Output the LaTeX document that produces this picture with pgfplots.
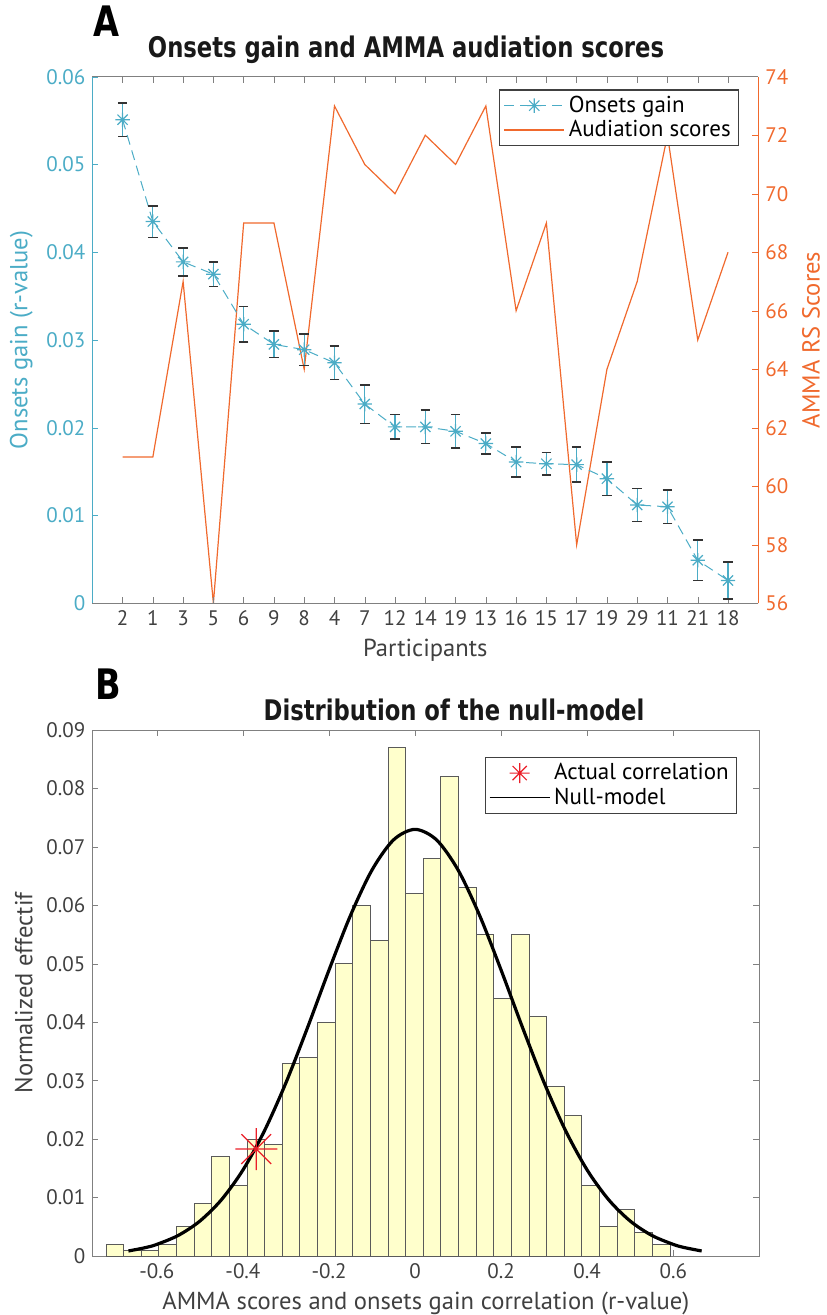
\documentclass[border=0pt]{standalone}
\usepackage{pgfplots}
\pgfplotsset{compat=1.18}
\usepackage{fontspec}
\setmainfont{PT Sans}
\newfontfamily\titlefont{DejaVu Sans}[FakeStretch=0.8]
\definecolor{cblue}{RGB}{75,172,198}
\definecolor{corange}{RGB}{240,105,45}
\definecolor{axgray}{RGB}{128,128,128}
\definecolor{txtgray}{RGB}{64,64,64}
\definecolor{histfill}{RGB}{255,255,204}
\definecolor{histedge}{RGB}{90,90,90}
\definecolor{cred}{RGB}{235,30,40}

\pgfdeclareplotmark{mstar}{%
  \pgfpathmoveto{\pgfqpoint{-\pgfplotmarksize}{0pt}}\pgfpathlineto{\pgfqpoint{\pgfplotmarksize}{0pt}}%
  \pgfpathmoveto{\pgfqpoint{0pt}{-\pgfplotmarksize}}\pgfpathlineto{\pgfqpoint{0pt}{\pgfplotmarksize}}%
  \pgfpathmoveto{\pgfqpoint{-.7071\pgfplotmarksize}{-.7071\pgfplotmarksize}}\pgfpathlineto{\pgfqpoint{.7071\pgfplotmarksize}{.7071\pgfplotmarksize}}%
  \pgfpathmoveto{\pgfqpoint{-.7071\pgfplotmarksize}{.7071\pgfplotmarksize}}\pgfpathlineto{\pgfqpoint{.7071\pgfplotmarksize}{-.7071\pgfplotmarksize}}%
  \pgfusepathqstroke}

\pgfplotsset{
  mylegend/.style={legend image code/.code={\draw[mark repeat=2,mark phase=2,##1] plot coordinates {(0pt,0pt) (15pt,0pt) (30pt,0pt)};}},
  base/.style={scale only axis, tick align=inside, major tick length=3pt,
    /pgf/number format/assume math mode=true,
    tick label style={font=\fontsize{10.5}{12}\selectfont, text=txtgray},
    label style={font=\fontsize{12.3}{14}\selectfont, text=txtgray},
    legend style={font=\fontsize{11.5}{12}\selectfont, draw=black!75, line width=0.6pt, fill=white,
      inner xsep=2pt, inner ysep=1pt, row sep=-1.5pt},
    legend cell align=left, mylegend,
  }
}

\pgfplotstableread{
x y e
0 0.0551 0.0019
1 0.0435 0.0018
2 0.0389 0.0016
3 0.0375 0.0014
4 0.0318 0.0020
5 0.0295 0.0015
6 0.0289 0.0018
7 0.0274 0.0019
8 0.0227 0.0022
9 0.0201 0.0014
10 0.0201 0.0019
11 0.0196 0.0019
12 0.0182 0.0012
13 0.0161 0.0017
14 0.0159 0.0013
15 0.0158 0.0020
16 0.0142 0.0019
17 0.0112 0.0019
18 0.0110 0.0019
19 0.0049 0.0023
20 0.0026 0.0021
}\gaintable

\begin{document}
\begin{tikzpicture}
\path[use as bounding box] (0,0) rectangle (413pt,-657.5pt);

% ---------- Panel A: right axis (scores) ----------
\begin{axis}[base, at={(46.15pt,-301.65pt)}, anchor=south west, width=333pt, height=263.3pt,
  xmin=-1, xmax=21, ymin=56, ymax=74,
  axis y line*=right, axis x line*=top,
  xtick={0,...,20}, xticklabels={},
  ytick={56,58,60,62,64,66,68,70,72,74},
  y axis line style={corange}, x axis line style={axgray},
  y tick style={corange}, x tick style={axgray},
  yticklabel style={text=corange},
  ylabel={AMMA RS Scores}, ylabel style={text=corange}]
\addplot[corange, line width=0.6pt] coordinates {
(0,61) (1,61) (2,67) (3,56) (4,69) (5,69) (6,64) (7,73) (8,71) (9,70) (10,72)
(11,71) (12,73) (13,66) (14,69) (15,58) (16,64) (17,67) (18,72) (19,65) (20,68)};
\end{axis}

% ---------- Panel A: left axis (gain) ----------
\begin{axis}[base, at={(46.15pt,-301.65pt)}, anchor=south west, width=333pt, height=263.3pt,
  xmin=-1, xmax=21, ymin=0, ymax=0.06,
  axis y line*=left, axis x line*=bottom,
  xtick={0,...,20},
  xticklabels={2,1,3,5,6,9,8,4,7,12,14,19,13,16,15,17,19,29,11,21,18},
  ytick={0,0.01,0.02,0.03,0.04,0.05,0.06},
  scaled y ticks=false,
  yticklabel style={/pgf/number format/fixed, /pgf/number format/precision=2, text=cblue},
  y axis line style={cblue}, y tick style={cblue},
  x axis line style={axgray}, x tick style={axgray},
  xlabel={Participants}, ylabel={Onsets gain (r-value)}, ylabel style={text=cblue},
  legend style={at={(0.9715,0.976)}, anchor=north east}]
\addplot[cblue, line width=0.5pt, dash pattern=on 5pt off 3pt,
  mark=mstar, mark size=3.6pt, mark options={solid, line width=0.6pt},
  error bars/.cd, y dir=both, y explicit,
  error bar style={cblue, solid, line width=0.6pt},
  error mark options={rotate=90, black!80, mark size=2.4pt, line width=0.8pt}]
  table[x=x, y=y, y error=e]{\gaintable};
\addlegendentry{Onsets gain}
\addlegendimage{corange, line width=0.6pt}
\addlegendentry{Audiation scores}
\end{axis}

% ---------- Panel B ----------
\begin{axis}[base, at={(46.15pt,-628pt)}, anchor=south west, width=333.5pt, height=263pt,
  xmin=-0.75, xmax=0.8, ymin=0, ymax=0.09,
  axis line style={axgray}, tick style={axgray},
  xtick={-0.6,-0.4,-0.2,0,0.2,0.4,0.6},
  ytick={0,0.01,0.02,0.03,0.04,0.05,0.06,0.07,0.08,0.09},
  scaled y ticks=false, scaled x ticks=false,
  yticklabel style={/pgf/number format/fixed, /pgf/number format/precision=2},
  xticklabel style={/pgf/number format/fixed, /pgf/number format/precision=1},
  xlabel={AMMA scores and onsets gain correlation (r-value)},
  ylabel={Normalized effectif},
  legend style={at={(0.967,0.949)}, anchor=north east}]
\addplot[ybar interval, fill=histfill, draw=histedge, line width=0.5pt, forget plot] coordinates {
(-0.71800,0.002) (-0.67704,0.001) (-0.63608,0.001) (-0.59512,0.002)
(-0.55416,0.005) (-0.51320,0.009) (-0.47224,0.017) (-0.43128,0.012)
(-0.39032,0.020) (-0.34936,0.019) (-0.30840,0.033) (-0.26744,0.034)
(-0.22648,0.040) (-0.18552,0.050) (-0.14456,0.060) (-0.10360,0.054)
(-0.06264,0.087) (-0.02168,0.062) (0.01928,0.068) (0.06024,0.082)
(0.10120,0.063) (0.14216,0.055) (0.18312,0.044) (0.22408,0.055)
(0.26504,0.041) (0.30600,0.029) (0.34696,0.024) (0.38792,0.012)
(0.42888,0.005) (0.46984,0.008) (0.51080,0.004) (0.55176,0.002)
(0.59272,0.002)};
\addplot[black, line width=1.6pt, smooth, forget plot] coordinates {
(-0.666,0.00086) (-0.625,0.00146) (-0.60,0.00199) (-0.55,0.00353) (-0.50,0.00598)
(-0.45,0.00962) (-0.40,0.01471) (-0.35,0.02142) (-0.30,0.02965) (-0.25,0.03905)
(-0.20,0.04892) (-0.15,0.05828) (-0.10,0.06605) (-0.05,0.07120) (0,0.07300)
(0.05,0.07120) (0.10,0.06605) (0.15,0.05828) (0.20,0.04892) (0.25,0.03905)
(0.30,0.02965) (0.35,0.02142) (0.40,0.01471) (0.45,0.00962) (0.50,0.00598)
(0.55,0.00353) (0.60,0.00199) (0.625,0.00146) (0.666,0.00086)};
\addplot[only marks, mark=mstar, mark size=10.5pt, cred, line width=0.6pt, forget plot]
  coordinates {(-0.369,0.0183)};
\addlegendimage{only marks, mark=mstar, mark size=5pt, cred, line width=0.6pt}
\addlegendentry{Actual correlation}
\addlegendimage{black, line width=0.5pt}
\addlegendentry{Null-model}
\end{axis}

% ---------- titles and panel letters ----------
\node[anchor=base, font=\titlefont\bfseries\fontsize{14.2}{16}\selectfont, text=black!90]
  at (203pt,-29pt) {Onsets gain and AMMA audiation scores};
\node[anchor=base, font=\titlefont\bfseries\fontsize{14.2}{16}\selectfont, text=black!90]
  at (227pt,-360pt) {Distribution of the null-model};
\node[anchor=base west, inner sep=0pt, font=\titlefont\bfseries\fontsize{21}{23}\selectfont]
  at (46.5pt,-18.5pt) {A};
\node[anchor=base west, inner sep=0pt, font=\titlefont\bfseries\fontsize{21}{23}\selectfont]
  at (47.5pt,-349.7pt) {B};
\end{tikzpicture}
\end{document}
